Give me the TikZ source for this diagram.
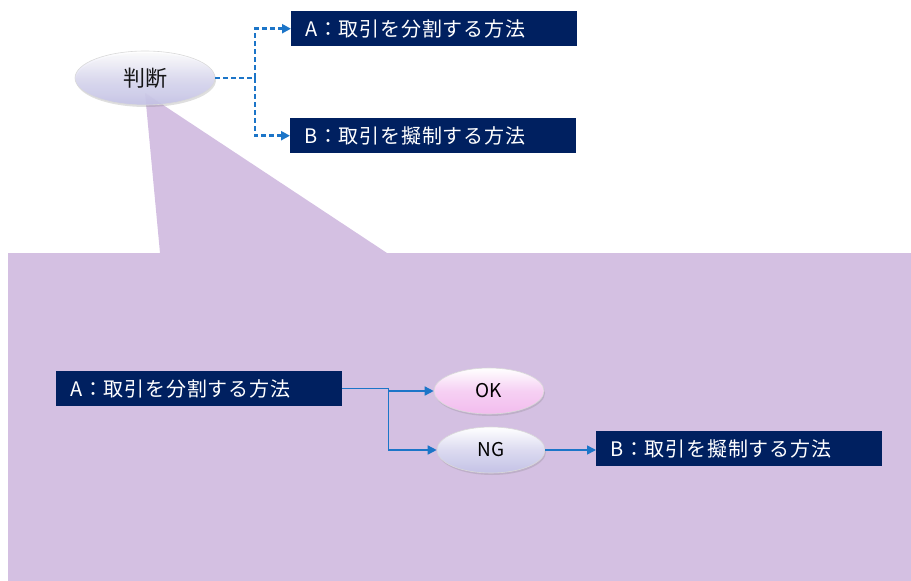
\documentclass[tikz,border=0pt]{standalone}
\usepackage{fontspec}
\setmainfont{Noto Sans CJK JP}
\usetikzlibrary{shapes.geometric,arrows.meta,shadows,calc}
\definecolor{navy}{HTML}{002060}
\definecolor{callout}{HTML}{D4C0E2}
\definecolor{linkblue}{HTML}{1C75C8}
\definecolor{lav}{HTML}{C4C2E6}
\definecolor{pinkish}{HTML}{F2BCEE}
\tikzset{
  darkbox/.style={rectangle, fill=navy, text=white, minimum height=35pt,
    text width=258pt, inner xsep=14pt, inner ysep=0pt, align=left,
    font=\addfontfeatures{LetterSpace=4}\fontsize{20}{22}\selectfont, anchor=north west},
  oval/.style={ellipse, draw=white!70!gray, line width=0.6pt, top color=white,
    bottom color=lav, middle color=lav!60!white, shading angle=0,
    drop shadow={shadow xshift=1pt, shadow yshift=-2pt, opacity=0.25}},
  dashlink/.style={draw=linkblue, line width=2.5pt, dash pattern=on 5pt off 3pt, -{Triangle[length=9pt,width=9pt]}},
  link/.style={draw=linkblue, line width=1.5pt, -{Triangle[length=9pt,width=9pt]}},
}
\begin{document}
\begin{tikzpicture}[x=1pt,y=-1pt]
\useasboundingbox (0,0) rectangle (911,581);
% callout
\fill[callout] (145,93) -- (160,253) -- (8,253) -- (8,581) -- (911,581) -- (911,253) -- (387,253) -- cycle;
% top part
\node[oval, minimum width=140pt, minimum height=54pt, fill opacity=0.9] (judge) at (145,78) {\fontsize{22}{24}\selectfont 判断};
\node[darkbox] (topA) at (291,11) {A：取引を分割する方法};
\node[darkbox] (topB) at (290,118) {B：取引を擬制する方法};
\coordinate (split) at (255,78);
\draw[dashlink] (judge.east) -- (split) |- (topA.west);
\draw[dashlink] (split) |- (topB.west);
% bottom part
\node[darkbox] (lowA) at (56,371) {A：取引を分割する方法};
\node[oval, bottom color=pinkish, middle color=pinkish!70!white, minimum width=110pt, minimum height=46pt] (ok) at (489,391) {\fontsize{19}{20}\selectfont OK};
\node[oval, minimum width=108pt, minimum height=46pt] (ng) at (491,450) {\fontsize{19}{20}\selectfont NG};
\node[darkbox] (lowB) at (596,431) {B：取引を擬制する方法};
\coordinate (split2) at ($(lowA.east)+(46,0)$);
\draw[link] (lowA.east) -- (split2) |- (ok.west);
\draw[link] (split2) |- (ng.west);
\draw[link] (ng.east) -- (ng.east -| lowB.west);
\end{tikzpicture}
\end{document}
